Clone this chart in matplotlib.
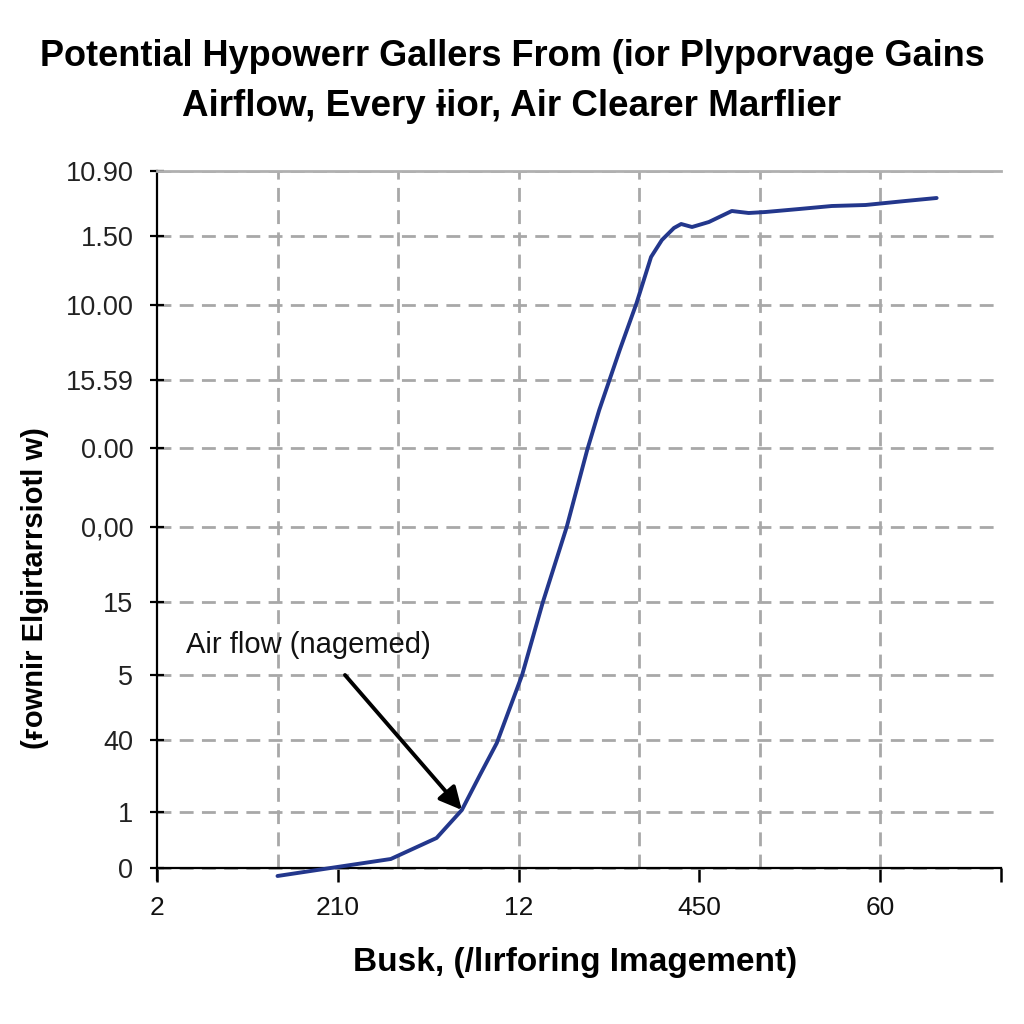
import matplotlib
matplotlib.use("Agg")
import matplotlib.pyplot as plt

# ---------------- data ----------------
title_lines = ["Potential Hypowerr Gallers From (ior Plyporvage Gains",
               "Airflow, Every \u0268ior, Air Clearer Marflier"]
x_label = "Busk, (/l\u0131rforing Imagement)"
y_label = "(\u0493ownir Elgirtarrsiotl w)"
annot_text = "Air flow (nagemed)"

x_tick_pos = [0, 1.5, 3, 4.5, 6, 7]
x_tick_labels = ["2", "210", "12", "450", "60", ""]
x_grid_pos = [1, 2, 3, 4, 5, 6]
y_tick_pos = [0, 56, 128, 193, 266, 341, 420, 488, 563, 632, 697]
y_tick_labels = ["0", "1", "40", "5", "15", "0,00", "0.00", "15.59",
                 "10.00", "1.50", "10.90"]

curve_x = [1.00, 1.44, 1.94, 2.32, 2.53, 2.68, 2.82, 3.03, 3.20, 3.40, 3.57,
           3.67, 3.84, 3.98, 4.10, 4.19, 4.29, 4.35, 4.44, 4.58, 4.77, 4.91,
           5.05, 5.33, 5.60, 5.88, 6.21, 6.47]
curve_y = [-8, 0, 9, 30, 58, 93, 125, 193, 265, 341, 418,
           458, 518, 565, 611, 628, 640, 644, 641, 646, 657, 655,
           656, 659, 662, 663, 667, 670]

annot_tip = (2.53, 58)
annot_tail = (1.56, 193)
annot_text_pos = (0.24, 223)

FONT = ["Liberation Sans", "DejaVu Sans"]
GRID = dict(color="#a8a8a8", lw=2, ls=(0, (5, 3)), zorder=1)

fig = plt.figure(figsize=(10.24, 10.24), dpi=100)
fig.patch.set_facecolor("white")

ax_bottom_px = 880
ax_top_px = 171
ax = fig.add_axes([157/1024, 1 - ax_bottom_px/1024, (1000.5-157)/1024,
                   (ax_bottom_px - ax_top_px)/1024])

ax.plot(curve_x, curve_y, color="#23378c", lw=2.8, solid_capstyle="round",
        solid_joinstyle="round", zorder=5)

ax.set_xlim(0, 7)
ax.set_ylim(-12, 697)

# spines
ax.spines["bottom"].set_position(("data", 0))
ax.spines["right"].set_visible(False)
ax.spines["top"].set_color("#b0b0b0")
ax.spines["top"].set_linewidth(2)
ax.spines["left"].set_linewidth(1.6)
ax.spines["bottom"].set_linewidth(1.6)

# ticks
ax.set_xticks(x_tick_pos)
ax.set_xticklabels(x_tick_labels, fontfamily=FONT, fontsize=19, color="#111111")
ax.set_yticks(y_tick_pos)
ax.set_yticklabels(y_tick_labels, fontfamily=FONT, fontsize=19.5,
                   color="#222222")
ax.tick_params(axis="x", direction="out", length=10, width=1.8, pad=10)
ax.tick_params(axis="y", direction="inout", length=10, width=1.6, pad=12)

# grid
ax.grid(which="major", axis="y", **{k: v for k, v in GRID.items() if k != "zorder"})
for gx in x_grid_pos:
    ax.axvline(gx, ymin=12/709, ymax=1, **GRID)
ax.set_axisbelow(True)

# annotation
ax.text(annot_text_pos[0], annot_text_pos[1], annot_text,
        fontfamily=FONT, fontsize=21, ha="left", va="center", color="#111111")
ax.annotate("", xy=annot_tip, xytext=annot_tail,
            arrowprops=dict(arrowstyle="-|>", color="black", lw=2.8,
                            mutation_scale=34, shrinkA=0, shrinkB=0),
            zorder=6)

# titles / labels
fig.text(0.5, 1 - 57/1024, title_lines[0], ha="center", va="center",
         fontsize=26, fontweight="bold", fontfamily=FONT)
fig.text(0.5, 1 - 106/1024, title_lines[1], ha="center", va="center",
         fontsize=26.5, fontweight="bold", fontfamily=FONT)
fig.text(575/1024, 1 - 963/1024, x_label, ha="center", va="center",
         fontsize=24, fontweight="bold", fontfamily=FONT)
fig.text(35/1024, 1 - 588/1024, y_label, ha="center", va="center",
         rotation=90, fontsize=21, fontweight="bold", fontfamily=FONT)

fig.savefig("out.png", dpi=100, facecolor="white")
